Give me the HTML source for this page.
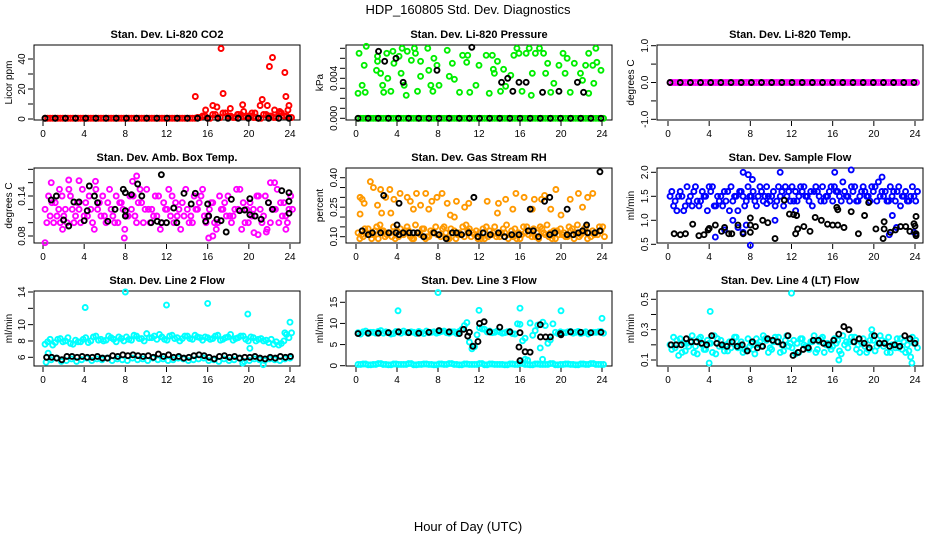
<!DOCTYPE html>
<html><head><meta charset="utf-8"><style>
html,body{margin:0;padding:0;background:#fff;}
svg{display:block;font-family:"Liberation Sans",Arial,sans-serif;}
</style></head><body>
<svg id="chart" width="936" height="540" viewBox="0 0 936 540">
<text x="468" y="14" text-anchor="middle" font-size="13">HDP_160805  Std. Dev. Diagnostics</text>
<text x="468" y="531" text-anchor="middle" font-size="13">Hour of Day (UTC)</text>
</svg>
<script>
// ---------- data ----------
const xTicks=[0,4,8,12,16,20,24];
// P1 CO2
const co2Red=[.5,.5,.5,.5,.5,.5,.5,.5,.5,.5,.5,.5,.5,.5,.5,.5,.5,.5,.5,.5,.5,.5,.5,.5,.5,.5,.5,.5,.5,.5,1,2,.5,3,1,4,2,1,3,1.5,2,1,.5,3,2,1,4,2,1];
const co2OutT=[14.8,15.8,16.5,16.9,17.3,17.5,18.2,18.9,19.4,19.5,20.3,20.6,21.1,21.3,21.8,22.0,22.3,22.5,23.0,23.5,23.6,23.8,23.9];
const co2OutV=[15,6,9,8,47,17,7,3,9.5,5,4,4,9,13,9,35,41,6,5,31,15,6,9];
const co2Blk=[.5,.5,.5,.5,.5,.5,.5,.5,.5,.5,.5,.5,.5,.5,.5,.5,.5,.5,.5,.5,.5,.5,.5,.5,.5];
// P2 pressure
const prsGreen=[0,0,0,0,0,0,0,0,0,0,0,0,0,0,0,0,0,0,0,0,0,0,0,0,0,0,0,0,0,0,0,0,0,0,0,0,0,0,0,0,0,0,0,0,0,0,0,0,0];
const prsScatT=[0.3,0.2,0.6,0.8,1.0,0.9,2,2.1,2.1,2.4,2.6,2.7,3.0,3.1,3.4,3.6,3.7,4.2,4.4,4.5,4.7,4.9,5.0,5.4,5.7,5.8,6,6.3,6.3,7,7.1,7.3,7.5,7.6,7.9,8.1,8.9,9.1,9.4,9.6,10.1,10.4,10.8,10.9,11.1,11.7,12,12.7,13,13.3,13.4,13.5,13.8,14.1,14.4,14.6,15.1,15.4,15.7,15.9,16.2,16.6,16.9,17.1,17.2,17.5,17.9,18.3,18.5,18.7,19,19.3,19.8,20.2,20.4,20.6,20.9,21.3,21.9,22.1,22.4,22.7,22.7,23.1,23.4,23.5,23.9,23.2];
const prsScatV=[.0065,.0025,.0033,.0053,.0072,.0026,.0048,.0057,.0062,.0045,.0033,.0026,.0065,.0040,.0027,.0067,.0055,.0062,.0045,.0070,.0033,.0023,.0067,.0058,.0070,.0065,.0027,.0057,.0042,.0070,.0048,.0033,.0027,.0060,.0053,.0033,.0068,.0042,.0055,.0039,.0026,.0063,.0056,.0063,.0026,.0033,.0053,.0063,.0025,.0063,.0049,.0045,.0057,.0027,.0049,.0032,.0043,.0063,.0070,.0065,.0027,.0065,.0070,.0023,.0045,.0065,.0070,.0065,.0045,.0055,.0026,.0035,.0053,.0065,.0045,.0060,.0026,.0055,.0045,.0038,.0053,.0065,.0025,.0053,.0070,.0056,.0048,.0035];
const prsBlk=[0,0,0,0,0,0,0,0,0,0,0,0,0,0,0,0,0,0,0,0,0,0,0,0,0];
const prsBlkT=[2.2,2.8,3.9,4.6,7.9,11.3,14.2,14.8,15.3,15.9,16.6,18.2,19.8,21.6,22.2];
const prsBlkV=[.0067,.0057,.0060,.0036,.0048,.0071,.0036,.0040,.0027,.0036,.0036,.0026,.0027,.0036,.0026];
// P3 temp
const tmpMag=[0,0,0,0,0,0,0,0,0,0,0,0,0,0,0,0,0,0,0,0,0,0,0,0,0,0,0,0,0,0,0,0,0,0,0,0,0,0,0,0,0,0,0,0,0,0,0,0,0];
const tmpBlk=[0,0,0,0,0,0,0,0,0,0,0,0,0,0,0,0,0,0,0,0,0,0,0,0,0];
// P4 amb box temp
const magA=[.12,.11,.13,.10,.12,.14,.11,.10,.13,.12,.15,.11,.10,.12,.14,.13,.11,.12,.10,.13,.15,.12,.11,.10,.12,.14,.11,.13,.12,.10,.12,.15,.11,.13,.10,.12,.14,.11,.12,.13,.10,.12,.14,.11,.13,.12,.10,.13,.12];
const magB=[.10,.13,.11,.14,.10,.12,.13,.15,.11,.10,.12,.14,.13,.11,.10,.12,.11,.14,.13,.10,.12,.11,.14,.13,.15,.10,.12,.11,.10,.14,.13,.11,.12,.10,.14,.13,.11,.12,.15,.10,.13,.11,.12,.14,.10,.12,.13,.11,.14];
const magC=[.14,.10,.12,.11,.15,.10,.12,.11,.14,.09,.13,.11,.15,.10,.13,.09,.14,.11,.15,.12,.10,.14,.09,.12,.11,.13,.09,.15,.11,.12,.14,.10,.13,.09,.12,.11,.10,.15,.09,.12,.11,.14,.10,.09,.12,.15,.11,.10,.12];
const magOutT=[0.2,0.8,1.6,2.5,3.5,5.1,9.1,8.7,7.9,16.1,16.5,20.5,20.9,21.7,22.1,22.5,23.6,1.9];
const magOutV=[.07,.16,.15,.164,.163,.162,.17,.162,.077,.077,.08,.085,.082,.086,.16,.16,.09,.09];
const ambBlkT=[0.8,1.3,2,2.5,3.0,3.5,4.0,4.3,4.5,5.0,5.3,6.3,7.0,7.8,8.0,8.0,8.0,8.6,9.2,9.6,10.5,11.1,11.5,11.5,12,12.7,13,13.7,14.4,14.8,15.8,16,16.1,16.9,17.3,17.8,18.3,19.1,19.6,20.1,20.1,20.6,21.2,21.9,22.3,23.2,23.9,23.9,23.9];
const ambBlkV=[.134,.14,.104,.095,.131,.131,.103,.118,.155,.14,.13,.102,.12,.15,.145,.118,.11,.142,.158,.14,.10,.102,.172,.10,.10,.122,.10,.144,.128,.144,.102,.128,.11,.105,.103,.086,.135,.118,.119,.136,.112,.11,.105,.13,.12,.148,.145,.132,.114];
// P5 RH
const rhA=[.12,.10,.14,.11,.09,.13,.12,.15,.10,.11,.13,.09,.12,.14,.10,.12,.11,.15,.09,.13,.12,.10,.14,.11,.12,.09,.13,.15,.10,.12,.11,.14,.09,.12,.13,.10,.15,.11,.12,.09,.14,.10,.13,.12,.11,.15,.10,.12,.13];
const rhB=[.09,.14,.11,.13,.16,.10,.12,.09,.14,.13,.10,.16,.11,.09,.13,.15,.10,.12,.14,.09,.11,.16,.10,.13,.09,.15,.11,.10,.12,.16,.13,.09,.11,.15,.10,.12,.14,.16,.09,.13,.11,.10,.14,.16,.12,.09,.13,.11,.15];
const rhC=[.11,.12,.09,.15,.13,.11,.10,.13,.12,.15,.09,.12,.14,.10,.12,.11,.14,.09,.12,.11,.15,.13,.12,.09,.14,.10,.12,.11,.14,.09,.10,.12,.15,.11,.14,.09,.12,.10,.13,.11,.12,.15,.09,.10,.14,.12,.11,.15,.10];
const rhScatT=[0.4,0.4,0.6,0.8,1.4,1.7,2.1,2.4,2.5,2.9,3.3,3.4,3.7,4.3,5,5.3,5.6,5.9,6.3,6.8,7.1,7.4,7.9,8.4,8.9,9.2,9.6,9.8,10.6,11.0,12.8,13.8,13.9,14.6,15.3,15.6,16.4,17.2,17.4,18.1,18.4,19,19.5,20,20.9,21.7,22.1,22.6,23.1];
const rhScatV=[.215,.30,.29,.27,.38,.35,.26,.34,.22,.30,.34,.22,.29,.32,.30,.28,.24,.32,.26,.32,.24,.28,.30,.32,.27,.21,.20,.28,.25,.27,.28,.22,.27,.29,.24,.32,.30,.24,.29,.29,.31,.24,.34,.21,.29,.32,.25,.30,.32];
const rhBlkT=[0.6,1.2,1.6,2.4,3.2,3.9,4.2,4.6,5.2,5.6,6.0,6.6,7.6,8.1,8.8,9.4,9.8,10.3,11.0,11.9,12.4,13.1,13.9,14.5,15.2,15.9,16.8,17.3,17.8,18.9,19.4,20.6,21.2,21.7,22.1,22.6,23.3,23.8];
const rhBlkV=[.13,.11,.12,.12,.12,.12,.11,.12,.12,.12,.12,.10,.12,.11,.09,.12,.12,.11,.12,.10,.12,.11,.12,.10,.11,.11,.13,.13,.10,.11,.12,.11,.11,.12,.13,.12,.12,.13];
const rhHighT=[2.7,4.2,4.0,11.5,17.0,18.4,18.9,20.6,22.5,23.8];
const rhHighV=[.31,.27,.16,.30,.24,.28,.30,.24,.16,.43];
// P6 sample flow
const blueA=[1.5,1.4,1.6,1.3,1.5,1.7,1.4,1.5,1.6,1.3,1.5,1.4,1.7,1.5,1.6,1.4,1.5,1.3,1.6,1.7,1.5,1.4,1.6,1.5,1.7,1.4,1.6,1.5,1.3,1.6,1.7,1.5,1.4,1.6,1.8,1.5,1.6,1.4,1.7,1.5,1.6,1.8,1.5,1.4,1.6,1.7,1.5,1.4,1.5];
const blueB=[1.6,1.2,1.5,1.7,1.3,1.4,1.6,1.2,1.7,1.5,1.3,1.6,1.4,1.2,1.5,1.7,1.6,1.5,1.4,1.5,1.6,1.7,1.3,1.6,1.4,1.5,1.7,1.4,1.6,1.5,1.4,1.6,1.7,1.5,1.6,1.4,1.7,1.5,1.6,1.4,1.7,1.5,1.6,1.7,1.4,1.3,1.6,1.5,1.4];
const blueC=[1.3,1.5,1.2,1.4,1.6,1.3,1.5,1.7,1.3,1.4,1.6,1.2,1.5,1.6,1.3,1.5,1.4,1.7,1.5,1.4,1.3,1.5,1.7,1.4,1.6,1.7,1.5,1.6,1.7,1.4,1.5,1.7,1.6,1.4,1.5,1.7,1.4,1.6,1.5,1.7,1.4,1.6,1.4,1.5,1.6,1.5,1.4,1.7,1.6];
const blueOutT=[4.6,5.5,6.3,6.8,7.3,8.0,7.6,10.4,9.6,12.4,21.5,21.8,22.2,23.9,7.3,10.9,16.2,17.8,20.8,8.2,7.8];
const blueOutV=[.65,.8,1.0,.85,.75,.48,.9,1.0,1.35,1.2,.7,1.1,.85,.75,2.0,2.0,2.0,2.05,1.9,1.85,1.95];
const sfBlkT=[0.6,1.2,1.7,2.4,3.0,3.5,3.9,4,4.6,5.2,5.5,5.9,6.2,6.8,7.3,8,8,8,8.5,9.2,9.7,10.4,11.3,11.8,12.2,12.4,12.5,12.6,13.2,13.8,14.3,14.9,15.5,16,16.4,16.5,16.5,17.1,17.8,18.5,19.1,19.5,20.2,20.9,21,21,21.6,22.1,22.6,23.1,23.5,23.9,24.0,24.1,24.1,24.1];
const sfBlkV=[.72,.70,.72,.92,.68,.7,.8,.83,.9,.77,.85,.72,.72,.9,.72,.75,.9,1.05,.87,1.0,.95,.62,1.42,1.13,1.12,.72,1.1,.82,.87,.77,1.06,1.0,.92,.9,1.27,1.22,.9,.85,1.18,.72,1.1,1.37,.82,.62,.82,.97,.75,.8,.87,.87,.77,.93,.88,.72,.68,1.08];
// P7 line 2
const l2A=[7.6,8.2,7.8,8.3,8.0,7.7,8.1,7.9,8.4,8.0,8.6,8.2,8.1,8.4,7.9,8.3,8.5,8.1,8.6,8.3,8.9,8.4,8.2,8.5,8.1,8.7,8.4,8.3,8.6,8.2,8.5,8.1,8.4,8.3,8.7,8.2,8.5,8.1,8.4,8.6,8.0,8.4,8.2,8.0,7.8,7.6,7.5,8.0,8.4];
const l2B=[7.9,7.5,8.2,7.9,8.4,7.6,7.9,8.2,7.8,8.5,8.1,8.0,8.6,8.2,8.5,8.0,8.2,8.7,8.3,8.0,8.4,8.6,8.8,8.2,8.6,8.3,8.0,8.6,8.3,8.7,8.4,8.5,8.2,8.6,8.1,8.4,8.8,8.3,8.6,8.2,8.5,8.0,8.3,8.1,8.2,7.9,7.7,8.8,9.0];
const l2Low=[5.4,5.7,5.9,5.5,5.6,5.8,5.5,5.7,5.9,5.6,5.8,5.7,5.9,5.6,5.8,5.7,5.6,5.9,5.7,5.8,5.6,5.9,5.7,5.8,5.6,5.7,5.9,5.8,5.6,5.7,5.8,5.9,5.6,5.7,5.5,5.8,5.6,5.7,5.9,5.5,5.6,5.8,5.7,5.6,5.8,5.7,5.6,5.8,5.9];
const l2OutT=[4.1,8.0,12,16,19.9,20.1,19.4,21.4,24,23.5,0.5];
const l2OutV=[12.1,14,12.4,12.6,11.3,7.1,5.3,5.1,10.3,9.0,6.5];
const l2Blk=[6.0,6.0,5.9,5.7,6.1,6.1,6.0,6.1,6.0,6.0,6.1,5.9,5.9,6.2,6.1,6.3,6.2,6.3,6.2,6.1,6.2,6.0,6.4,6.1,6.3,6.0,6.1,5.9,6.0,6.2,6.3,6.2,6.0,5.8,6.1,6.2,6.0,6.1,5.9,6.0,6.0,6.1,5.9,5.8,6.0,5.9,6.1,6.0,6.1];
// P8 line 3
const l3A=[7.8,8.0,7.6,7.9,8.1,7.7,7.9,7.6,8.0,8.2,7.8,7.9,8.1,7.6,7.8,8.0,7.9,8.2,7.7,8.0,8.1,9.5,5.6,4.5,9.0,8.6,8.2,7.9,8.0,7.8,8.1,7.5,9.8,6.5,10.1,8.3,4.2,9.5,6.1,7.9,8.0,7.8,8.1,7.9,7.6,8.0,7.8,7.9,8.1];
const l3B=[7.5,8.2,7.9,7.7,8.3,8.0,7.5,8.1,7.7,7.9,8.0,7.6,7.8,8.2,7.9,7.7,8.1,7.8,8.0,7.6,8.6,10.2,4.0,7.3,8.7,8.0,7.8,8.2,7.7,8.0,7.6,9.9,5.9,1.3,7.2,9.6,10.3,5.3,9.9,7.6,7.8,8.0,7.7,8.1,7.8,7.5,7.9,8.0,7.7];
const l3Base=[0.3,0.4,0.2,0.3,0.5,0.3,0.2,0.4,0.3,0.3,0.5,0.2,0.3,0.4,0.3,0.2,0.4,0.3,0.5,0.3,0.2,0.4,0.3,0.3,0.5,0.2,0.4,0.3,0.3,0.2,0.4,0.3,0.5,0.3,0.2,0.4,0.3,0.3,0.5,0.2,0.3,0.4,0.3,0.2,0.4,0.3,0.5,0.3,0.3];
const l3OutT=[4.1,8.0,12,16,20,24,16.5,18.2];
const l3OutV=[13,17.3,13.1,13.6,13,11.2,1.5,1.5];
const l3Blk=[7.6,7.7,7.7,7.8,8.0,7.8,7.7,7.9,8.3,8.0,7.6,7.9,10.0,8.0,9.1,8.0,7.8,3.2,9.7,6.8,7.6,8.0,7.9,7.8,7.9];
const l3BlkT=[11.4,11.9,12.5,15.9,16,16.5,18,18.5,10.5,10.9,20];
const l3BlkV=[4.6,5.7,10.4,4.4,1.2,3.3,6.8,6.8,8.6,7.0,7.3];
// P9 line 4
const l4A=[.20,.18,.24,.16,.22,.19,.25,.17,.21,.14,.23,.20,.18,.25,.22,.16,.21,.24,.19,.23,.17,.22,.20,.26,.18,.21,.24,.19,.22,.17,.25,.21,.19,.23,.26,.18,.22,.20,.24,.17,.23,.21,.19,.25,.20,.18,.22,.16,.21];
const l4B=[.17,.23,.15,.21,.26,.14,.20,.23,.15,.24,.19,.16,.22,.18,.15,.24,.17,.20,.26,.15,.22,.25,.16,.19,.23,.15,.20,.17,.26,.22,.15,.19,.24,.16,.20,.22,.25,.15,.19,.23,.16,.26,.22,.15,.18,.24,.15,.12,.23];
const l4C=[.25,.13,.21,.19,.15,.24,.17,.21,.26,.19,.16,.22,.25,.20,.17,.19,.14,.22,.24,.18,.25,.15,.23,.21,.14,.24,.19,.22,.15,.24,.20,.17,.21,.14,.22,.25,.17,.21,.15,.26,.19,.23,.15,.20,.24,.17,.20,.25,.18];
const l4OutT=[4.1,12,4.0,23.7,16.6,19.8];
const l4OutV=[.42,.54,.08,.08,.10,.30];
const l4Blk=[.20,.20,.20,.24,.22,.22,.21,.20,.26,.21,.20,.19,.22,.19,.20,.16,.22,.18,.19,.24,.23,.22,.20,.26,.13,.15,.17,.18,.23,.23,.21,.20,.23,.27,.32,.30,.22,.24,.21,.18,.26,.21,.21,.19,.20,.19,.26,.24,.21];

// ---------- rendering ----------
const NS='http://www.w3.org/2000/svg';
const svg=document.getElementById('chart');
function el(tag,attrs,parent){const e=document.createElementNS(NS,tag);for(const k in attrs)e.setAttribute(k,attrs[k]);(parent||svg).appendChild(e);return e;}
function timesFor(arr){return arr.map((_,i)=>0.2+i*23.7/(arr.length-1));}
const cols=[{b0:34,b1:300,x0:43,x24:290,yl:12},{b0:346,b1:612,x0:356,x24:602,yl:323},{b0:657,b1:923,x0:668,x24:915,yl:634}];
const rows=[{t:45,b:120},{t:168,b:243},{t:291,b:366}];
function panel(name,title,ylab,col,row,v1,p1,v2,p2,yTickVals,yLabVals,yFmt){
  const C=cols[col],R=rows[row];
  const g=el('g',{});
  
  
  const sx=t=>C.x0+(C.x24-C.x0)*t/24;
  const sy=v=>p1+(p2-p1)*(v-v1)/(v2-v1);
  const tt=el('text',{x:(C.b0+C.b1)/2,y:R.t-7,'text-anchor':'middle','font-size':'11','font-weight':'bold'},g);
  tt.textContent=title;
  
  
  const yl=el('text',{transform:`translate(${C.yl},${(R.t+R.b)/2}) rotate(-90)`,'text-anchor':'middle','font-size':'10'},g);
  yl.textContent=ylab;
  
  
  const xa=el('g',{},g);
  
  
  xTicks.forEach(t=>{
    el('line',{x1:sx(t),x2:sx(t),y1:R.b+1,y2:R.b+6,stroke:'#000','stroke-width':1},xa);
    const lt=el('text',{x:sx(t),y:R.b+17,'text-anchor':'middle','font-size':'10'},xa);
    lt.textContent=t;
    
    
  });
  const ya=el('g',{},g);
  
  
  yTickVals.forEach(v=>{el('line',{x1:C.b0-1,x2:C.b0-6,y1:sy(v),y2:sy(v),stroke:'#000','stroke-width':1},ya);});
  yLabVals.forEach(v=>{
    const lt=el('text',{transform:`translate(${C.b0-9},${sy(v)}) rotate(-90)`,'text-anchor':'middle','font-size':'10'},ya);
    lt.textContent=yFmt(v);
    
    
  });
  const box=el('rect',{x:C.b0,y:R.t,width:C.b1-C.b0,height:R.b-R.t,fill:'none',stroke:'#000','stroke-width':1},g);
  
  
  const pts=el('g',{},g);
  
  
  return {
    dots(ts,vs,color){
      for(let i=0;i<Math.min(ts.length,vs.length);i++){
        const c=el('circle',{cx:sx(ts[i]),cy:sy(vs[i]),r:2.5,fill:'none',stroke:color,'stroke-width':1.9},pts);
        
        
      }
    },
    series(vs,color,off){const ts=timesFor(vs).map(t=>t+(off||0));this.dots(ts,vs,color);}
  };
}
const f0=v=>String(v), f1=v=>v.toFixed(1), f2=v=>v.toFixed(2), f3=v=>v.toFixed(3);
// P1
let p=panel('co2','Stan. Dev. Li-820 CO2','Licor ppm',0,0,0,119,40,59,[0,10,20,30,40],[0,20,40],f0);
p.series(co2Red,'#ff0000');p.series(co2Red,'#ff0000',0.25);p.dots(co2OutT,co2OutV,'#ff0000');p.series(co2Blk,'#000');
// P2
p=panel('pressure','Stan. Dev. Li-820 Pressure','kPa',1,0,0,118.3,0.004,78.3,[0,.001,.002,.003,.004,.005,.006,.007],[0,.004],f3);
p.series(prsGreen,'#00ee00');p.series(prsGreen,'#00ee00',0.25);p.dots(prsScatT,prsScatV,'#00ee00');p.series(prsBlk,'#000');p.dots(prsBlkT,prsBlkV,'#000');
// P3
p=panel('temp','Stan. Dev. Li-820 Temp.','degrees C',2,0,1,45.7,-1,119.3,[-1,-.5,0,.5,1],[-1,0,1],f1);
p.series(tmpMag,'#ff00ff');p.series(tmpMag,'#ff00ff',0.25);p.series(tmpBlk,'#000');
// P4
p=panel('amb-temp','Stan. Dev. Amb. Box Temp.','degrees C',0,1,0.08,236,0.14,196,[.08,.10,.12,.14,.16,.18],[.08,.14],f2);
p.series(magA,'#ff00ff');p.series(magB,'#ff00ff',0.17);p.series(magC,'#ff00ff',0.34);p.dots(magOutT,magOutV,'#ff00ff');p.dots(ambBlkT,ambBlkV,'#000');
// P5
p=panel('rh','Stan. Dev. Gas Stream RH','percent',1,1,0.10,236.7,0.40,177.7,[.10,.15,.20,.25,.30,.35,.40],[.10,.25,.40],f2);
p.series(rhA,'#ff9900');p.series(rhB,'#ff9900',0.17);p.series(rhC,'#ff9900',0.34);p.dots(rhScatT,rhScatV,'#ff9900');p.dots(rhBlkT,rhBlkV,'#000');p.dots(rhHighT,rhHighV,'#000');
// P6
p=panel('sample-flow','Stan. Dev. Sample Flow','ml/min',2,1,0.5,244.3,2.0,172.3,[.5,1,1.5,2],[.5,1,1.5,2],f1);
p.series(blueA,'#0000ff');p.series(blueB,'#0000ff',0.17);p.series(blueC,'#0000ff',0.34);p.dots(blueOutT,blueOutV,'#0000ff');p.dots(sfBlkT,sfBlkV,'#000');
// P7
p=panel('line2','Stan. Dev. Line 2 Flow','ml/min',0,2,6,357.3,14,292,[6,8,10,12,14],[6,8,10,14],f0);
p.series(l2A,'#00ffff');p.series(l2B,'#00ffff',0.25);p.series(l2Low,'#00ffff',0.1);p.dots(l2OutT,l2OutV,'#00ffff');p.series(l2Blk,'#000',0.15);
// P8
p=panel('line3','Stan. Dev. Line 3 Flow','ml/min',1,2,0,365.7,15,302.3,[0,5,10,15],[0,5,10,15],f0);
p.series(l3Base,'#00ffff');p.series(l3Base,'#00ffff',0.25);p.series(l3A,'#00ffff');p.series(l3B,'#00ffff',0.25);p.dots(l3OutT,l3OutV,'#00ffff');p.series(l3Blk,'#000');p.dots(l3BlkT,l3BlkV,'#000');
// P9
p=panel('line4','Stan. Dev. Line 4 (LT) Flow','ml/min',2,2,0.1,360,0.5,299.3,[.1,.2,.3,.4,.5],[.1,.3,.5],f1);
p.series(l4A,'#00ffff');p.series(l4B,'#00ffff',0.17);p.series(l4C,'#00ffff',0.34);p.dots(l4OutT,l4OutV,'#00ffff');p.series(l4Blk,'#000',0.1);
</script>
</body></html>
